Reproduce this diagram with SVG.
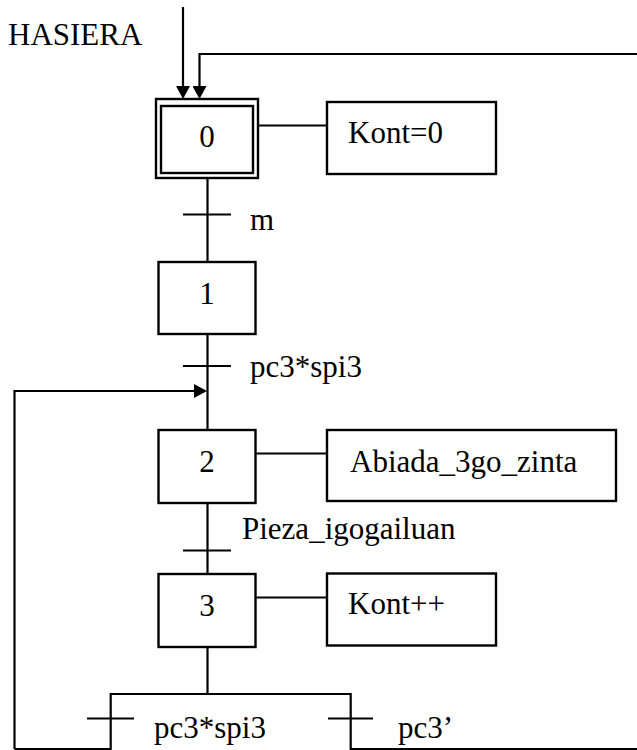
<svg xmlns="http://www.w3.org/2000/svg" width="637" height="750" viewBox="0 0 637 750">
<style>
.box{fill:#fff;stroke:#000;stroke-width:2.4}
.ln{fill:none;stroke:#000;stroke-width:2.2}
.t{font-family:"Liberation Serif","Times New Roman",serif;font-size:31px;fill:#000}
.c{text-anchor:middle}
</style>
<defs>
<marker id="ah" viewBox="0 0 13 14" refX="1" refY="7" markerWidth="13" markerHeight="14" markerUnits="userSpaceOnUse" orient="auto">
<path d="M0,0 L13,7 L0,14 Z" fill="#000"/>
</marker>
</defs>
<rect width="637" height="750" fill="#fff"/>
<text class="t" x="8" y="45">HASIERA</text>
<g id="connectors">
<path class="ln" d="M183,7 V87" marker-end="url(#ah)"/>
<path class="ln" d="M637,54 H199.5 V87" marker-end="url(#ah)"/>
<path class="ln" d="M207.5,178 V262"/>
<path class="ln" d="M183,214.5 H231"/>
<path class="ln" d="M258,125.5 H327"/>
<path class="ln" d="M207.5,334 V430"/>
<path class="ln" d="M183,366 H231"/>
<path class="ln" d="M14.5,749 V391 H195" marker-end="url(#ah)"/>
<path class="ln" d="M256,453.5 H327"/>
<path class="ln" d="M207.5,503 V574"/>
<path class="ln" d="M183,550.5 H231"/>
<path class="ln" d="M256,597.5 H327"/>
<path class="ln" d="M207.5,647 V694"/>
<path class="ln" d="M14.5,749 H110.7 V694 H350.7 V749 H637"/>
<path class="ln" d="M87,718.5 H134"/>
<path class="ln" d="M328,718.5 H373"/>
</g>
<g id="step0">
<rect class="box" x="156" y="99" width="102" height="79"/>
<rect class="box" x="161" y="106" width="92" height="67"/>
<text class="t c" x="207" y="147">0</text>
</g>
<g id="action0">
<rect class="box" x="327" y="102" width="169" height="72"/>
<text class="t" x="348" y="143">Kont=0</text>
</g>
<g id="step1">
<rect class="box" x="158.5" y="262" width="97" height="72"/>
<text class="t c" x="207" y="304">1</text>
</g>
<g id="step2">
<rect class="box" x="158.5" y="430" width="97" height="73"/>
<text class="t c" x="207" y="472">2</text>
</g>
<g id="action2">
<rect class="box" x="327" y="430" width="289" height="71"/>
<text class="t" x="350" y="472">Abiada_3go_zinta</text>
</g>
<g id="step3">
<rect class="box" x="158.5" y="574" width="97" height="73"/>
<text class="t c" x="207" y="616">3</text>
</g>
<g id="action3">
<rect class="box" x="327" y="573.5" width="169" height="72"/>
<text class="t" x="348" y="613.5">Kont++</text>
</g>
<g id="labels">
<text class="t" x="250" y="230">m</text>
<text class="t" x="250" y="377">pc3*spi3</text>
<text class="t" x="242" y="539">Pieza_igogailuan</text>
<text class="t" x="154" y="738">pc3*spi3</text>
<text class="t" x="398" y="738">pc3’</text>
</g>
</svg>
